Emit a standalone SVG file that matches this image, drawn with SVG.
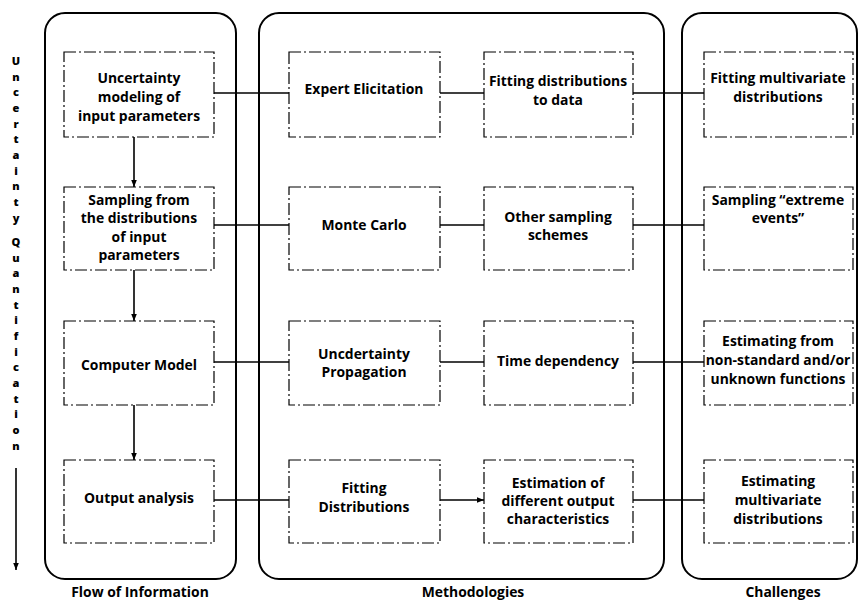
<svg xmlns="http://www.w3.org/2000/svg" width="865" height="600" viewBox="0 0 865 600">
<style>
.panel{fill:none;stroke:#000;stroke-width:2}
.box{fill:#fff;stroke:#000;stroke-width:1.2;stroke-dasharray:12 3 2 3}
.t{font-family:"Open Sans","Liberation Sans",sans-serif;font-weight:700;font-size:13.9px;fill:#000;text-anchor:middle}
.v{font-family:"Open Sans","Liberation Sans",sans-serif;font-weight:800;font-size:11px;fill:#000;text-anchor:middle}
.c{stroke:#000;stroke-width:1.6;fill:none}
</style>
<defs>
<marker id="ah" viewBox="0 0 10 10" refX="10" refY="5" markerWidth="7" markerHeight="7" orient="auto" markerUnits="userSpaceOnUse">
<path d="M0,1 L10,5 L0,9 Z" fill="#000"/>
</marker>
</defs>
<rect id="panel-flow" class="panel" x="45" y="13" width="191" height="566" rx="20"/>
<rect id="panel-method" class="panel" x="259" y="13" width="405" height="566" rx="20"/>
<rect id="panel-challenge" class="panel" x="682" y="13" width="175" height="566" rx="20"/>

<g id="connectors">
<line class="c" x1="214" y1="93" x2="289" y2="93"/>
<line class="c" x1="440" y1="93" x2="484" y2="93"/>
<line class="c" x1="633" y1="93" x2="704" y2="93"/>
<line class="c" x1="214" y1="225" x2="289" y2="225"/>
<line class="c" x1="440" y1="225" x2="484" y2="225"/>
<line class="c" x1="633" y1="225" x2="704" y2="225"/>
<line class="c" x1="214" y1="362" x2="289" y2="362"/>
<line class="c" x1="440" y1="362" x2="484" y2="362"/>
<line class="c" x1="633" y1="362" x2="704" y2="362"/>
<line class="c" x1="214" y1="500" x2="289" y2="500"/>
<line class="c" x1="440" y1="500" x2="484" y2="500" marker-end="url(#ah)"/>
<line class="c" x1="633" y1="500" x2="704" y2="500"/>
<line class="c" x1="134" y1="137" x2="134" y2="187" marker-end="url(#ah)"/>
<line class="c" x1="134" y1="270" x2="134" y2="321" marker-end="url(#ah)"/>
<line class="c" x1="134" y1="405" x2="134" y2="460" marker-end="url(#ah)"/>
<line class="c" x1="16" y1="468" x2="16" y2="570" marker-end="url(#ah)"/>
</g>

<g id="n-uncertainty-modeling"><rect class="box" x="64" y="52" width="150" height="85"/>
<text class="t" x="139" y="83">Uncertainty</text><text class="t" x="139" y="102">modeling of</text><text class="t" x="139" y="121">input parameters</text></g>
<g id="n-sampling"><rect class="box" x="64" y="187" width="150" height="83"/>
<text class="t" x="139" y="205">Sampling from</text><text class="t" x="139" y="223">the distributions</text><text class="t" x="139" y="242">of input</text><text class="t" x="139" y="260">parameters</text></g>
<g id="n-computer-model"><rect class="box" x="64" y="321" width="150" height="84"/>
<text class="t" x="139" y="370">Computer Model</text></g>
<g id="n-output-analysis"><rect class="box" x="64" y="460" width="150" height="83"/>
<text class="t" x="139" y="503">Output analysis</text></g>

<g id="n-expert"><rect class="box" x="289" y="52" width="151" height="85"/>
<text class="t" x="364" y="94">Expert Elicitation</text></g>
<g id="n-fitting-data"><rect class="box" x="484" y="52" width="149" height="85"/>
<text class="t" x="558" y="86">Fitting distributions</text><text class="t" x="558" y="105">to data</text></g>
<g id="n-monte-carlo"><rect class="box" x="289" y="187" width="151" height="83"/>
<text class="t" x="364" y="230">Monte Carlo</text></g>
<g id="n-other-sampling"><rect class="box" x="484" y="187" width="149" height="83"/>
<text class="t" x="558" y="222">Other sampling</text><text class="t" x="558" y="240">schemes</text></g>
<g id="n-propagation"><rect class="box" x="289" y="321" width="151" height="84"/>
<text class="t" x="364" y="359">Uncdertainty</text><text class="t" x="364" y="377">Propagation</text></g>
<g id="n-time"><rect class="box" x="484" y="321" width="149" height="84"/>
<text class="t" x="558" y="366">Time dependency</text></g>
<g id="n-fitting-dist"><rect class="box" x="289" y="460" width="151" height="83"/>
<text class="t" x="364" y="493">Fitting</text><text class="t" x="364" y="512">Distributions</text></g>
<g id="n-estimation"><rect class="box" x="484" y="460" width="149" height="83"/>
<text class="t" x="558" y="488">Estimation of</text><text class="t" x="558" y="506">different output</text><text class="t" x="558" y="524">characteristics</text></g>

<g id="n-fitting-multi"><rect class="box" x="704" y="52" width="149" height="85"/>
<text class="t" x="778" y="83">Fitting multivariate</text><text class="t" x="778" y="102">distributions</text></g>
<g id="n-extreme"><rect class="box" x="704" y="187" width="149" height="83"/>
<text class="t" x="778" y="205">Sampling “extreme</text><text class="t" x="778" y="223">events”</text></g>
<g id="n-nonstandard"><rect class="box" x="704" y="321" width="149" height="84"/>
<text class="t" x="778" y="346">Estimating from</text><text class="t" x="778" y="365">non-standard and/or</text><text class="t" x="778" y="384">unknown functions</text></g>
<g id="n-est-multi"><rect class="box" x="704" y="460" width="149" height="83"/>
<text class="t" x="778" y="486">Estimating</text><text class="t" x="778" y="505">multivariate</text><text class="t" x="778" y="524">distributions</text></g>

<g id="axis-label">
<text class="v" x="16" y="65">U</text><text class="v" x="16" y="81">n</text><text class="v" x="16" y="96">c</text><text class="v" x="16" y="112">e</text><text class="v" x="16" y="128">r</text><text class="v" x="16" y="143">t</text><text class="v" x="16" y="159">a</text><text class="v" x="16" y="175">i</text><text class="v" x="16" y="190">n</text><text class="v" x="16" y="206">t</text><text class="v" x="16" y="222">y</text>
<text class="v" x="16" y="246">Q</text><text class="v" x="16" y="262">u</text><text class="v" x="16" y="277">a</text><text class="v" x="16" y="293">n</text><text class="v" x="16" y="309">t</text><text class="v" x="16" y="324">i</text><text class="v" x="16" y="340">f</text><text class="v" x="16" y="356">i</text><text class="v" x="16" y="371">c</text><text class="v" x="16" y="387">a</text><text class="v" x="16" y="403">t</text><text class="v" x="16" y="418">i</text><text class="v" x="16" y="434">o</text><text class="v" x="16" y="450">n</text>
</g>

<text class="t" x="140" y="597">Flow of Information</text>
<text class="t" x="473" y="597">Methodologies</text>
<text class="t" x="783" y="597">Challenges</text>
</svg>
